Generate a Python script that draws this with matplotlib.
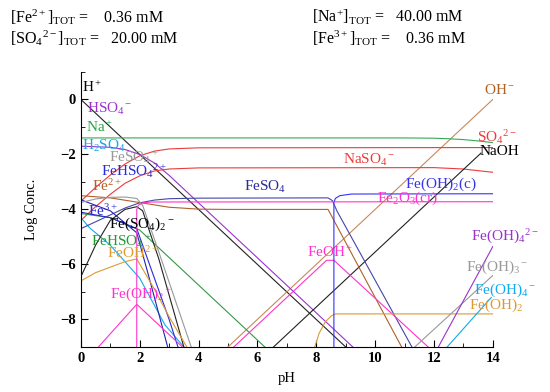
import matplotlib
matplotlib.use("Agg")
import matplotlib.pyplot as plt
from matplotlib.ticker import MultipleLocator

plt.rcParams['font.family'] = ['Liberation Serif', 'DejaVu Serif']
plt.rcParams['mathtext.fontset'] = 'custom'
plt.rcParams['mathtext.rm'] = 'Liberation Serif'
plt.rcParams['mathtext.it'] = 'Liberation Serif:italic'
plt.rcParams['mathtext.bf'] = 'Liberation Serif:bold'

# totals shown in the header
fe2_tot = "0.36"
so4_tot = "20.00"
na_tot = "40.00"
fe3_tot = "0.36"

# species curves: pH points and log concentration
h_ph = [0, 9]
h_log = [0, -9]
oh_ph = [5, 14]
oh_log = [-9, 0]
hso4_ph = [0, 0.5, 1, 1.5, 2, 2.5, 3, 3.5, 4, 9.24]
hso4_log = [-1.70, -1.72, -1.74, -1.82, -2.0, -2.31, -2.76, -3.26, -3.76, -9]
so4_ph = [0, 0.5, 1, 1.5, 2, 2.5, 3, 4, 14]
so4_log = [-3.7, -3.2, -2.75, -2.35, -2.05, -1.88, -1.8, -1.76, -1.75]
naso4_ph = [0, 0.5, 1, 1.5, 2, 2.5, 3, 4, 12, 13, 14]
naso4_log = [-4.4, -3.9, -3.45, -3.05, -2.78, -2.6, -2.53, -2.49, -2.48, -2.53, -2.65]
na_ph = [0, 11, 12, 12.5, 13, 13.5, 14]
na_log = [-1.40, -1.40, -1.41, -1.43, -1.46, -1.51, -1.57]
naoh_ph = [6.55, 13.6]
naoh_log = [-9, -1.95]
h2so4_ph = [0, 0.3, 1, 2, 2.86, 3.5]
h2so4_log = [-4.3, -4.67, -5.3, -6.5, -8.2, -9]

fe2_ph = [0, 1, 2, 3, 4, 5, 8.4, 8.6, 10.9]
fe2_log = [-3.5, -3.58, -3.75, -3.92, -3.99, -4.0, -4.0, -4.4, -9]
feso4_ph = [0, 0.5, 1, 1.5, 2, 2.5, 3, 4, 8.4, 8.55, 8.7, 11.25]
feso4_log = [-4.7, -4.45, -4.2, -3.95, -3.76, -3.66, -3.61, -3.59, -3.58, -3.68, -4.05, -9]
fehso4p_ph = [0, 1, 2, 2.65, 6.25]
fehso4p_log = [-4.15, -4.3, -4.75, -5.4, -9]
feohp_ph = [5.2, 8.35, 8.6, 11.8]
feohp_log = [-9, -5.85, -5.85, -9]
feoh2aq_ph = [7.95, 8.1, 8.3, 8.5, 8.65, 14]
feoh2aq_log = [-9, -8.5, -8.1, -7.88, -7.8, -7.8]
feoh3m_ph = [11.35, 14]
feoh3m_log = [-9, -6.4]
feoh4mm_ph = [12.15, 14]
feoh4mm_log = [-9, -5.35]
feoh2c_ph = [8.6, 8.6, 8.65, 8.8, 9.2, 14]
feoh2c_log = [-9, -3.75, -3.6, -3.5, -3.44, -3.43]

fe3_ph = [0, 1, 1.9, 2.3, 3.0, 3.3]
fe3_log = [-4.1, -4.3, -4.7, -5.9, -8.0, -9]
fehso42p_ph = [0, 1, 1.9, 2.3, 2.95]
fehso42p_log = [-3.65, -4.05, -4.85, -6.4, -9]
feso4p_ph = [0, 0.5, 1, 1.5, 1.9, 2.1, 2.65, 3.75]
feso4p_log = [-3.75, -3.62, -3.56, -3.55, -3.6, -3.85, -5.55, -9]
feso42m_ph = [0, 0.5, 1, 1.5, 1.9, 2.1, 2.65, 3.5]
feso42m_log = [-6.45, -5.3, -4.4, -4.0, -3.9, -4.05, -5.8, -9]
feoh2p_ph = [0, 0.5, 1, 1.5, 1.9, 2.5, 3, 3.6]
feoh2p_log = [-6.6, -6.3, -6.1, -5.9, -5.8, -6.9, -7.9, -9]
feoh2plus_ph = [0.6, 1.9, 3.45]
feoh2plus_log = [-9, -7.45, -9]
fe2o3_ph = [1.9, 1.9, 1.95, 2.1, 2.4, 14]
fe2o3_log = [-9, -4.0, -3.85, -3.76, -3.73, -3.72]
feoh4m_ph = [12.45, 13.95]
feoh4m_log = [-9, -7.2]

fig = plt.figure(figsize=(5.5, 3.92), dpi=100)
ax = fig.add_axes([0.147, 0.115, 0.749, 0.7015])

lw = 0.8
black = '#222222'
purple = '#9933cc'
green = '#33aa55'
cyan = '#11aaee'
gray = '#999999'
blue = '#2a2ad8'
navy = '#4646a8'
brown = '#b0602a'
tan = '#c8885a'
red = '#ee3a3a'
orange = '#dd9a33'
magenta = '#ff33cc'

ax.plot(h_ph, h_log, color=black, lw=lw)
ax.plot(oh_ph, oh_log, color=tan, lw=lw)
ax.plot(hso4_ph, hso4_log, color=purple, lw=lw)
ax.plot(so4_ph, so4_log, color=red, lw=lw)
ax.plot(naso4_ph, naso4_log, color=red, lw=lw)
ax.plot(na_ph, na_log, color=green, lw=lw)
ax.plot(naoh_ph, naoh_log, color=black, lw=lw)
ax.plot(h2so4_ph, h2so4_log, color=cyan, lw=lw)
ax.plot(fe2_ph, fe2_log, color=brown, lw=lw)
ax.plot(feso4_ph, feso4_log, color=navy, lw=lw)
ax.plot(fehso4p_ph, fehso4p_log, color='#339944', lw=lw)
ax.plot(feohp_ph, feohp_log, color=magenta, lw=lw)
ax.plot(feoh2aq_ph, feoh2aq_log, color=orange, lw=lw)
ax.plot(feoh3m_ph, feoh3m_log, color=gray, lw=lw)
ax.plot(feoh4mm_ph, feoh4mm_log, color=purple, lw=lw)
ax.plot(feoh2c_ph, feoh2c_log, color='#3333ff', lw=lw)
ax.plot(fe3_ph, fe3_log, color=blue, lw=lw)
ax.plot(fehso42p_ph, fehso42p_log, color='#2222aa', lw=lw)
ax.plot(feso4p_ph, feso4p_log, color=gray, lw=lw)
ax.plot(feso42m_ph, feso42m_log, color=black, lw=lw)
ax.plot(feoh2p_ph, feoh2p_log, color=orange, lw=lw)
ax.plot(feoh2plus_ph, feoh2plus_log, color=magenta, lw=lw)
ax.plot(fe2o3_ph, fe2o3_log, color=magenta, lw=lw)
ax.plot(feoh4m_ph, feoh4m_log, color=cyan, lw=lw)

# species labels
fs = 11
def lab(x, y, s, c):
    ax.text(x, y, s, color=c, fontsize=fs, va='center', ha='left')

lab(0.05, 0.45, r'$\mathrm{H^+}$', 'black')
lab(0.2, -0.35, r'$\mathrm{HSO_4{}^-}$', purple)
lab(0.17, -1.0, r'$\mathrm{Na^+}$', '#22aa44')
lab(0.05, -1.7, r'$\mathrm{H_2SO_4}$', cyan)
lab(0.95, -2.1, r'$\mathrm{FeSO_4{}^+}$', gray)
lab(0.7, -2.6, r'$\mathrm{FeHSO_4{}^{2+}}$', blue)
lab(0.37, -3.15, r'$\mathrm{Fe^{2+}}$', brown)
lab(0.25, -4.05, r'$\mathrm{Fe^{3+}}$', blue)
lab(0.95, -4.55, r'$\mathrm{Fe(SO_4)_2{}^-}$', 'black')
lab(0.35, -5.15, r'$\mathrm{FeHSO_4{}^+}$', '#229933')
lab(0.9, -5.6, r'$\mathrm{FeOH^{2+}}$', orange)
lab(1.0, -7.1, r'$\mathrm{Fe(OH)_2{}^+}$', magenta)
lab(5.55, -3.2, r'$\mathrm{FeSO_4}$', '#2a2a99')
lab(8.9, -2.2, r'$\mathrm{NaSO_4{}^-}$', red)
lab(13.7, 0.35, r'$\mathrm{OH^-}$', '#b06020')
lab(13.45, -1.35, r'$\mathrm{SO_4{}^{2-}}$', red)
lab(13.55, -1.9, 'NaOH', 'black')
lab(11.0, -3.1, r'$\mathrm{Fe(OH)_2(c)}$', '#3333ee')
lab(10.05, -3.6, r'$\mathrm{Fe_2O_3(cr)}$', magenta)
lab(7.7, -5.55, r'$\mathrm{FeOH^+}$', magenta)
lab(13.25, -5.0, r'$\mathrm{Fe(OH)_4{}^{2-}}$', purple)
lab(13.1, -6.1, r'$\mathrm{Fe(OH)_3{}^-}$', gray)
lab(13.35, -6.95, r'$\mathrm{Fe(OH)_4{}^-}$', cyan)
lab(13.2, -7.5, r'$\mathrm{Fe(OH)_2}$', orange)

ax.set_xlim(0, 14)
ax.set_ylim(-9, 1)
ax.spines['top'].set_visible(False)
ax.spines['right'].set_visible(False)
ax.xaxis.set_major_locator(MultipleLocator(2))
ax.xaxis.set_minor_locator(MultipleLocator(1))
ax.yaxis.set_major_locator(MultipleLocator(2))
ax.yaxis.set_minor_locator(MultipleLocator(1))
ax.tick_params(which='both', direction='in', labelsize=10.5)
ax.tick_params(which='major', length=5)
ax.tick_params(which='minor', length=3)
for t in ax.get_xticklabels() + ax.get_yticklabels():
    t.set_fontweight('bold')
ax.set_xlabel('pH', fontsize=10.5, labelpad=5)
ax.set_ylabel('Log Conc.', fontsize=10.5, labelpad=16)

# header with totals
hfs = 11.5
fig.text(0.018, 0.957, r'$\mathrm{[Fe^{2+}]_{TOT}}$ =    ' + fe2_tot + ' mM', fontsize=hfs, va='center')
fig.text(0.018, 0.903, r'$\mathrm{[SO_4{}^{2-}]_{TOT}}$ =   ' + so4_tot + ' mM', fontsize=hfs, va='center')
fig.text(0.567, 0.957, r'$\mathrm{[Na^{+}]_{TOT}}$ =   ' + na_tot + ' mM', fontsize=hfs, va='center')
fig.text(0.567, 0.903, r'$\mathrm{[Fe^{3+}]_{TOT}}$ =    ' + fe3_tot + ' mM', fontsize=hfs, va='center')

fig.savefig('out.png', dpi=100)
